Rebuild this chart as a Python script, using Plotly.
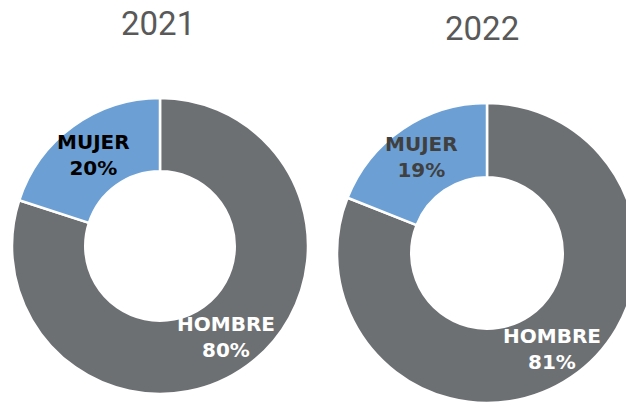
import math
import plotly.graph_objects as go

years = ["2021", "2022"]
labels = ["HOMBRE", "MUJER"]
values_2021 = [80, 20]
values_2022 = [81, 19]

GREY = "#6D7073"
BLUE = "#6CA0D5"
W, H = 640, 404

def dom_x(a, b):
    return [a / W, b / W]

def dom_y(top, bottom):
    return [1 - bottom / H, 1 - top / H]

pies = [
    dict(year=years[0], values=values_2021, cx=160, cy=246, r=148, rl=113,
         colors=["white", "black"], tx=158, ty=23.5),
    dict(year=years[1], values=values_2022, cx=487, cy=253, r=150, rl=116,
         colors=["white", "#404040"], tx=482, ty=28),
]

fig = go.Figure()
for p in pies:
    cx, cy, r = p["cx"], p["cy"], p["r"]
    fig.add_trace(go.Pie(
        labels=labels, values=p["values"], hole=0.505, sort=False,
        direction="clockwise", rotation=0,
        marker=dict(colors=[GREY, BLUE], line=dict(color="white", width=2.5)),
        textinfo="none",
        domain=dict(x=dom_x(cx - r, cx + r), y=dom_y(cy - r, cy + r)),
        showlegend=False, hoverinfo="label+percent",
    ))
    total = sum(p["values"])
    cum = 0
    for lab, v, col in zip(labels, p["values"], p["colors"]):
        mid = (cum + v / 2) / total * 2 * math.pi
        cum += v
        px = cx + p["rl"] * math.sin(mid)
        py = cy - p["rl"] * math.cos(mid)
        pct = round(v / total * 100)
        fig.add_annotation(
            text=f"<b>{lab}</b><br><b>{pct}%</b>",
            x=px / W, y=1 - py / H, xref="paper", yref="paper",
            showarrow=False, xanchor="center", yanchor="middle",
            font=dict(family="DejaVu Sans", size=20, color=col),
        )
    fig.add_annotation(text=p["year"], x=p["tx"] / W, y=1 - p["ty"] / H,
                       xref="paper", yref="paper", showarrow=False,
                       font=dict(family="Roboto", size=33, color="#595959"),
                       xanchor="center", yanchor="middle")

fig.update_layout(
    width=W, height=H, margin=dict(l=0, r=0, t=0, b=0),
    paper_bgcolor="white", plot_bgcolor="white",
)

fig.write_html(
    "out.html",
    config={"displayModeBar": False},
    post_script="document.body.style.margin='0';document.body.style.overflow='hidden';document.documentElement.style.overflow='hidden';",
)
